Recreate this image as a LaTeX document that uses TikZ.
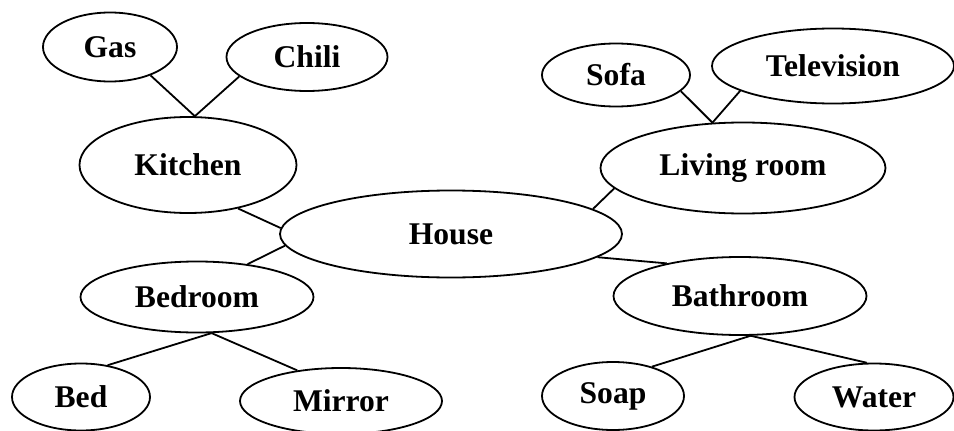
\documentclass[tikz,border=0pt]{standalone}
\usepackage{fontspec}
\setmainfont{Liberation Serif}
\usetikzlibrary{shapes.geometric}

\begin{document}
\begin{tikzpicture}[
    x=1pt, y=-1pt,
    % --- Node style ---
    concept/.style = {ellipse, draw=black, line width=1.8pt, fill=white,
        inner sep=0pt, align=center,
        font=\fontsize{31.6}{36}\selectfont\bfseries},
    % --- Connector style ---
    link/.style = {line width=1.8pt, draw=black}
]
\useasboundingbox (0,0) rectangle (954,431);

% ==================== CENTRE ====================
\node[concept, minimum width=342pt, minimum height=87pt] (house) at (451,234) {House};

% ==================== ROOMS ====================
\node[concept, minimum width=217pt, minimum height=96pt] (kitchen) at (188,165) {Kitchen};
\node[concept, minimum width=285pt, minimum height=91pt] (living) at (743,168) {Living room};
\node[concept, minimum width=233pt, minimum height=71pt] (bedroom) at (197,297) {Bedroom};
\node[concept, minimum width=253pt, minimum height=78pt] (bathroom) at (740,296) {Bathroom};

% ==================== THINGS ====================
\node[concept, minimum width=134pt, minimum height=69pt] (gas) at (110,47) {Gas};
\node[concept, minimum width=161pt, minimum height=68pt] (chili) at (307,57) {Chili};
\node[concept, minimum width=148pt, minimum height=63pt] (sofa) at (616,75) {Sofa};
\node[concept, minimum width=242pt, minimum height=75pt] (tv) at (833,66) {Television};
\node[concept, minimum width=138pt, minimum height=67pt] (bed) at (81,397) {Bed};
\node[concept, minimum width=202pt, minimum height=66pt] (mirror) at (341,401) {Mirror};
\node[concept, minimum width=142pt, minimum height=68pt] (soap) at (613,396) {Soap};
\node[concept, minimum width=159pt, minimum height=67pt] (water) at (874,397) {Water};

% ==================== LINKS ====================
\draw[link] (kitchen.-41) -- (house.178);
\draw[link] (bedroom.33) -- (house.-176);
\draw[link] (living.-171) -- (house.10);
\draw[link] (house.-9) -- (bathroom.156);

\draw[link] (gas.-35) -- (kitchen.82);
\draw[link] (chili.-164) -- (kitchen.82);
\draw[link] (sofa.-14) -- (living.124);
\draw[link] (tv.-165) -- (living.124);
\draw[link] (bedroom.-68) -- (bed.50);
\draw[link] (bedroom.-68) -- (mirror.145);
\draw[link] (bathroom.-75) -- (soap.37);
\draw[link] (bathroom.-75) -- (water.102);

\end{tikzpicture}
\end{document}
